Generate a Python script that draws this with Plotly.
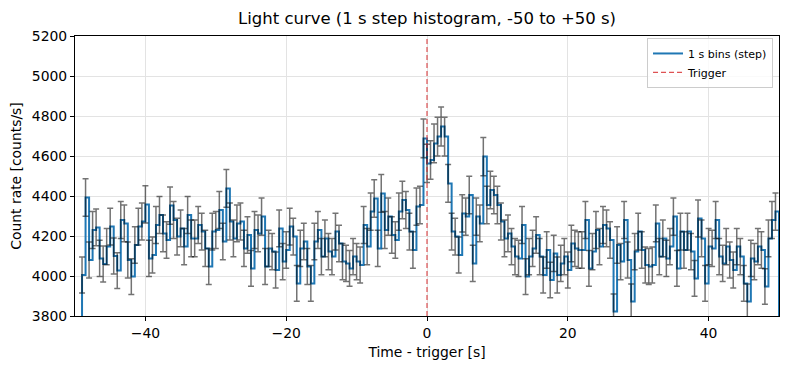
import numpy as np
import plotly.graph_objects as go

# Step histogram: bins start at T_START and are BIN_WIDTH wide
BIN_WIDTH = 0.5
T_START = -49.0
RATE = [
    # -49 .. -33.5
    4005, 4393, 4080, 4230, 4243, 4088, 4060, 4147, 4247, 4100, 4027, 4280, 4263, 4080, 3997, 4155,
    4247, 4272, 4358, 4088, 4105, 4255, 4305, 4213, 4180, 4352, 4280, 4197, 4238, 4147, 4305, 4188,
    # -33 .. -17
    4188, 4255, 4222, 4138, 4047, 4222, 4230, 4330, 4172, 4438, 4272, 4188, 4263, 4272, 4138, 4205,
    4038, 4230, 4213, 4297, 4047, 4138, 4122, 4030, 4238, 4072, 4130, 4247, 4197, 3963, 4138, 4172, 4047,
    # -16.5 .. -1
    3963, 4172, 4230, 4097, 4188, 4122, 4097, 4222, 4163, 4072, 4063, 4038, 4097, 4072, 4055, 4255,
    4147, 4322, 4388, 4138, 4413, 4230, 4297, 4205, 4180, 4322, 4380, 4330, 4222, 4130, 4347, 4355,
    # -0.5 .. 16.5
    4688, 4563, 4580, 4663, 4697, 4747, 4697, 4463, 4222, 4197, 4105, 4313, 4297, 4405, 4063, 4297,
    4263, 4597, 4355, 4430, 4405, 4355, 4272, 4188, 4213, 4147, 4097, 4088, 4255, 3997, 4097, 4138,
    4205, 4097, 4005,
    # 17 .. 32.5
    4130, 3980, 4113, 4005, 4063, 4097, 4030, 4163, 4138, 4130, 4130, 4280, 4038, 4122, 4230, 4147,
    4255, 4238, 4180, 3822, 4155, 4072, 4280, 4080, 3872, 4122, 4222, 4130, 4055, 4047, 4055, 4263,
    # 33 .. 49.5
    4097, 4188, 4088, 4147, 4297, 4038, 4222, 4130, 4222, 4122, 3988, 4288, 4188, 3963, 4147, 4138,
    4280, 4097, 4063, 4147, 4080, 4030, 4147, 4097, 3963, 3872, 4088, 4072, 4147, 4130, 3947, 4188,
    4280, 4322,
]
TRIGGER_T = 0
X_RANGE = [-50, 50]
Y_RANGE = [3800, 5200]
Y_TICKS = [3800, 4000, 4200, 4400, 4600, 4800, 5000, 5200]
X_TICKS = [-40, -20, 0, 20, 40]

rate = np.array(RATE, dtype=float)
t = T_START + BIN_WIDTH * np.arange(len(rate))
err = np.sqrt(rate * 2.0)  # Poisson-like uncertainty

t_end = t[-1] + BIN_WIDTH
base = 0.0
step_x = np.concatenate([[t[0]], t, [t_end, t_end]])
step_y = np.concatenate([[base], rate, [rate[-1], base]])

fig = go.Figure()
fig.add_trace(go.Scatter(
    x=step_x, y=step_y, mode="lines", line=dict(shape="hv", color="#1f77b4", width=2),
    name="1 s bins (step)"))
fig.add_trace(go.Scatter(
    x=t, y=rate, mode="markers", marker=dict(size=1, opacity=0),
    error_y=dict(type="data", array=err, color="rgba(0,0,0,0.55)", thickness=1.5, width=3),
    showlegend=False, hoverinfo="skip"))
fig.add_trace(go.Scatter(
    x=[None], y=[None], mode="lines",
    line=dict(color="rgba(214,39,40,0.8)", width=1.2, dash="5px,3px"),
    name="Trigger"))
fig.add_vline(x=TRIGGER_T, line=dict(color="rgba(214,39,40,0.8)", width=1.2, dash="5px,3px"))

axis_common = dict(showline=True, linecolor="black", linewidth=1, mirror=True,
                   ticks="outside", ticklen=4, tickcolor="black", automargin=False,
                   showgrid=True, gridcolor="#e3e3e3", gridwidth=1, zeroline=False,
                   tickfont=dict(size=13.9, color="black"))
fig.update_xaxes(range=X_RANGE, tickvals=X_TICKS,
                 title=dict(text="Time - trigger [s]", font=dict(size=13.9), standoff=7), **axis_common)
fig.update_yaxes(range=Y_RANGE, tickvals=Y_TICKS,
                 title=dict(text="Count rate [counts/s]", font=dict(size=13.9), standoff=7), **axis_common)

# the page body has an 8px margin, so the figure is sized/margined to compensate
FIG_W, FIG_H = 782, 362
fig.update_layout(
    width=FIG_W, height=FIG_H,
    margin=dict(l=67, r=11, t=28, b=54),
    paper_bgcolor="white", plot_bgcolor="white",
    font=dict(family="DejaVu Sans", color="black"),
    title=dict(text="Light curve (1 s step histogram, -50 to +50 s)", x=0.5, xanchor="center",
               xref="paper", y=1 - 10 / FIG_H, yanchor="middle", font=dict(size=16.5)),
    legend=dict(x=0.9915, y=0.993, xanchor="right", yanchor="top", bgcolor="rgba(255,255,255,0.8)",
                bordercolor="#cccccc", borderwidth=1, font=dict(size=11), tracegroupgap=0),
    showlegend=True,
)

fig.write_html("out.html")
